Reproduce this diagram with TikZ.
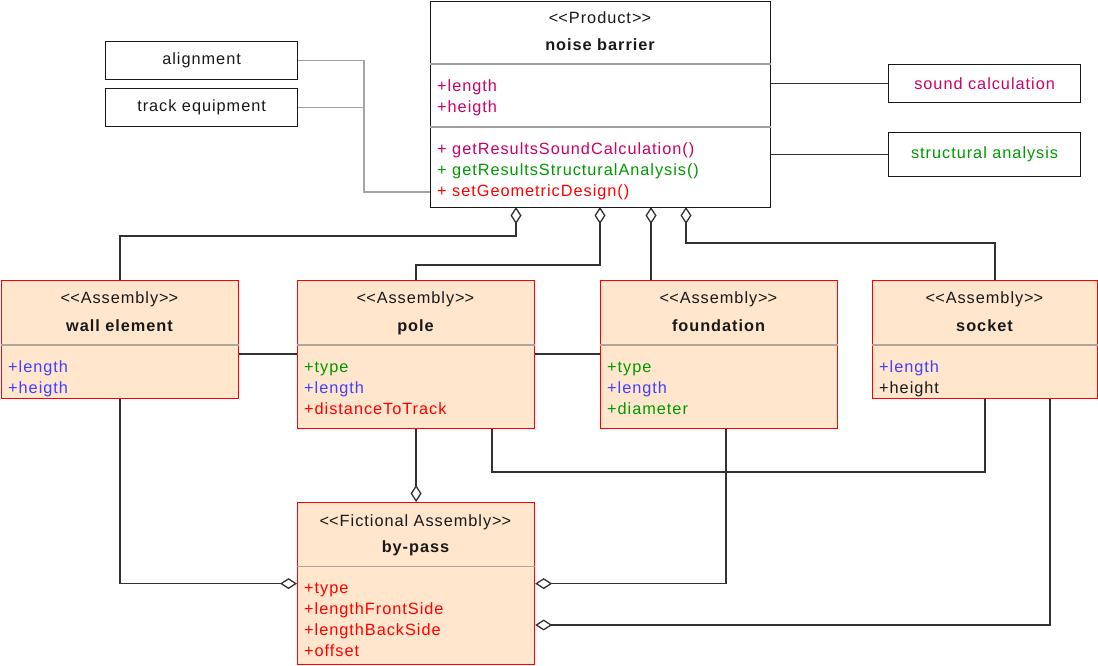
\documentclass[tikz,border=0pt]{standalone}
\usepackage{fontspec}
\setmainfont{Liberation Sans}[LetterSpace=6]
\usetikzlibrary{arrows.meta}
\definecolor{peach}{RGB}{255,230,204}
\definecolor{pinkc}{RGB}{204,0,102}
\definecolor{greenc}{RGB}{0,153,0}
\definecolor{bluec}{RGB}{64,64,255}
\definecolor{redc}{RGB}{255,0,0}
\definecolor{txtc}{RGB}{25,25,25}
\definecolor{sepc}{RGB}{175,165,155}
\definecolor{msep}{RGB}{160,160,160}
\definecolor{linec}{RGB}{50,50,50}
\definecolor{glinec}{RGB}{165,165,165}
\newcommand\st[1]{<\kern0pt<#1>\kern0pt>}
\newcommand\attr[4]{\node[txt,anchor=base west,text=#3] (#1) at (#2) {#4};}
\newcommand\ctext[4]{\node[#3,anchor=base] (#1) at (#2) {#4};}
\begin{document}
\begin{tikzpicture}[x=1pt,y=-1pt,
  txt/.style={inner sep=0pt, font=\fontsize{16.3}{21}\selectfont, text=txtc},
  btxt/.style={txt, font=\fontsize{16.3}{21}\selectfont\bfseries},
  asm/.style={draw=redc, fill=peach, line width=1.2pt, inner sep=0pt, anchor=north west},
  plainbox/.style={draw=txtc, fill=white, line width=1.2pt, inner sep=0pt, anchor=north west, font=\fontsize{16.3}{21}\selectfont, text=txtc},
  conn/.style={draw=linec, line width=1.3pt},
  aggstart/.style={conn, {Diamond[open,length=17pt,width=11pt]}-},
  aggend/.style={conn, -{Diamond[open,length=17pt,width=11pt]}},
  gline/.style={draw=glinec, line width=1.3pt},
  asep/.style={draw=sepc, line width=1.2pt},
  msepl/.style={draw=msep, line width=1.2pt}]
\useasboundingbox (0,0) rectangle (1098,665);

% ---------- main product box ----------
\node[plainbox, minimum width=340pt, minimum height=206pt] (nb) at (430,0.8) {};
\draw[msepl] (nb.west |- 0,64) -- (nb.east |- 0,64);
\draw[msepl] (nb.west |- 0,127) -- (nb.east |- 0,127);
\ctext{nbst}{600,23}{txt}{\st{Product}}
\ctext{nbnm}{600,50}{btxt}{noise barrier}
\attr{nba1}{437,91}{pinkc}{+length}
\attr{nba2}{437,112}{pinkc}{+heigth}
\attr{nbm1}{437,154}{pinkc}{+ getResultsSoundCalculation()}
\attr{nbm2}{437,175}{greenc}{+ getResultsStructuralAnalysis()}
\attr{nbm3}{437,196}{redc}{+ setGeometricDesign()}

% ---------- side boxes ----------
\node[plainbox, minimum width=192pt, minimum height=38pt] (align) at (105,41) {alignment};
\node[plainbox, minimum width=192pt, minimum height=38pt] (track) at (105,88) {track equipment};
\node[plainbox, minimum width=192pt, minimum height=38pt, text=pinkc] (sound) at (888,64) {sound calculation};
\node[plainbox, minimum width=192pt, minimum height=44pt, text=greenc] (struct) at (888,132) {structural analysis};

% ---------- assembly boxes ----------
\node[asm, minimum width=237pt, minimum height=118pt] (wall) at (1,280) {};
\node[asm, minimum width=237pt, minimum height=148pt] (pole) at (297,280) {};
\node[asm, minimum width=237pt, minimum height=148pt] (found) at (600,280) {};
\node[asm, minimum width=225pt, minimum height=118pt] (sock) at (872,280) {};
\node[asm, minimum width=237pt, minimum height=162pt] (bp) at (297,502) {};
\foreach \b in {wall,pole,found,sock}{\draw[asep] (\b.west |- 0,345) -- (\b.east |- 0,345);}
\draw[asep] (bp.west |- 0,566.5) -- (bp.east |- 0,566.5);

\ctext{wst}{119.5,303.5}{txt}{\st{Assembly}}
\ctext{wnm}{119.5,331}{btxt}{wall element}
\attr{wa1}{8,372}{bluec}{+length}
\attr{wa2}{8,393}{bluec}{+heigth}

\ctext{pst}{415.5,303.5}{txt}{\st{Assembly}}
\ctext{pnm}{415.5,331}{btxt}{pole}
\attr{pa1}{304,372}{greenc}{+type}
\attr{pa2}{304,393}{bluec}{+length}
\attr{pa3}{304,414}{redc}{+distanceToTrack}

\ctext{fst}{718.5,303.5}{txt}{\st{Assembly}}
\ctext{fnm}{718.5,331}{btxt}{foundation}
\attr{fa1}{607,372}{greenc}{+type}
\attr{fa2}{607,393}{bluec}{+length}
\attr{fa3}{607,414}{greenc}{+diameter}

\ctext{sst}{984.5,303.5}{txt}{\st{Assembly}}
\ctext{snm}{984.5,331}{btxt}{socket}
\attr{sa1}{879,372}{bluec}{+length}
\attr{sa2}{879,393}{txtc}{+height}

\ctext{bst}{415.5,526}{txt}{\st{Fictional Assembly}}
\ctext{bnm}{415.5,552}{btxt}{by-pass}
\attr{ba1}{304,593}{redc}{+type}
\attr{ba2}{304,614}{redc}{+lengthFrontSide}
\attr{ba3}{304,635}{redc}{+lengthBackSide}
\attr{ba4}{304,656}{redc}{+offset}

% ---------- connectors ----------
\coordinate (d1) at (516,207);
\coordinate (d2) at (600,207);
\coordinate (d3) at (651,207);
\coordinate (d4) at (686,207);
\draw[aggstart] (d1) -- (516,236) -| (wall.north);
\draw[aggstart] (d2) -- (600,265) -| (pole.north);
\draw[aggstart] (d3) -- (d3 |- found.north);
\draw[aggstart] (d4) -- (686,243) -| (sock.north -| 995,0);

\draw[gline] (align.east) -| (364,192) -- (nb.west |- 0,192);
\draw[gline] (track.east) -- (track.east -| 364,0);
\draw[conn] (nb.east |- sound.west) -- (sound.west);
\draw[conn] (nb.east |- struct.west) -- (struct.west);

\draw[conn] (wall.east |- 0,354) -- (pole.west |- 0,354);
\draw[conn] (pole.east |- 0,354) -- (found.west |- 0,354);

\draw[aggend] (wall.south) |- (bp.west);
\draw[aggend] (pole.south) -- (bp.north);
\draw[conn] (pole.south -| 492,0) -- (492,472) -| (sock.south);
\draw[aggend] (found.south -| 726,0) |- (bp.east);
\draw[aggend] (sock.south -| 1050,0) |- (bp.east |- 0,625);
\end{tikzpicture}
\end{document}
